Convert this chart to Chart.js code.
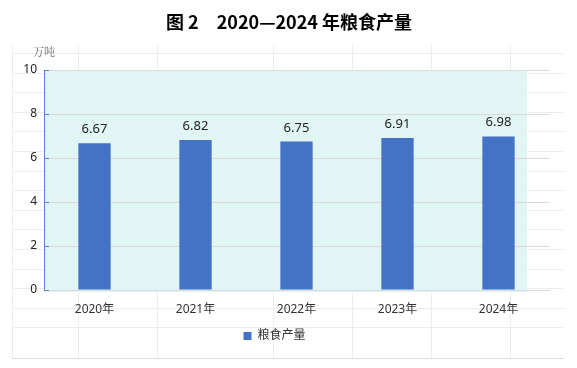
<!DOCTYPE html>
<html>
<head>
<meta charset="utf-8">
<script src="https://cdn.jsdelivr.net/npm/chart.js@4.4.1/dist/chart.umd.min.js"></script>
<style>
  html, body { margin: 0; padding: 0; background: #fff; }
  #wrap { width: 577px; height: 368px; }
</style>
</head>
<body>
<div id="wrap"><canvas id="c" width="577" height="368"></canvas></div>
<script>
const years = ['2020年', '2021年', '2022年', '2023年', '2024年'];
const grain = [6.67, 6.82, 6.75, 6.91, 6.98];
const yTicks = [0, 2, 4, 6, 8, 10];
const seriesName = '粮食产量';
const title = '图 2　2020—2024 年粮食产量';
const unit = '万吨';

const FONT = "'Noto Sans', 'Noto Sans CJK SC', sans-serif";

// faint spreadsheet cells behind the chart, title, labels
const sheet = {
    id: 'sheet',
    beforeDraw(chart) {
        const c = chart.ctx;
        c.save();
        c.strokeStyle = '#ececec';
        c.lineWidth = 1;
        for (let y = 53; y <= 347; y += 19.6) {
            c.beginPath(); c.moveTo(12, Math.round(y) + 0.5); c.lineTo(564, Math.round(y) + 0.5); c.stroke();
        }
        [12, 78, 157, 273, 352, 431, 510].forEach(x => {
            c.beginPath(); c.moveTo(x + 0.5, 45); c.lineTo(x + 0.5, 358); c.stroke();
        });
        c.strokeStyle = '#dcdcdc';
        c.beginPath(); c.moveTo(12, 358.5); c.lineTo(564, 358.5); c.stroke();

        // plot fill
        const a = chart.chartArea;
        c.fillStyle = '#e1f5f4';
        c.fillRect(a.left, a.top, 527 - a.left, a.bottom - a.top + 2);
        c.restore();
    },
    afterDraw(chart) {
        const c = chart.ctx;
        const y = chart.scales.y;
        c.save();
        c.fillStyle = '#000';
        c.font = "bold 18px 'Noto Sans CJK SC', sans-serif";
        c.textAlign = 'center';
        c.textBaseline = 'middle';
        c.fillText(title, 289, 22);

        c.fillStyle = '#666';
        c.font = "11px 'Noto Serif CJK SC', 'Noto Sans CJK SC', serif";
        c.fillText(unit, 44, 52);

        // small inner tick marks on the value axis
        c.strokeStyle = '#5b82d0';
        yTicks.forEach(v => {
            const py = Math.round(y.getPixelForValue(v)) + 0.5;
            c.beginPath(); c.moveTo(y.right, py); c.lineTo(y.right + 5, py); c.stroke();
        });

        // value labels
        const meta = chart.getDatasetMeta(0);
        c.fillStyle = '#222';
        c.font = '13px ' + FONT;
        c.textBaseline = 'alphabetic';
        meta.data.forEach((bar, i) => {
            c.fillText(grain[i].toFixed(2), bar.x, bar.y - 10);
        });
        c.restore();
    }
};

new Chart(document.getElementById('c'), {
    type: 'bar',
    data: {
        labels: years,
        datasets: [{
            label: seriesName,
            data: grain,
            backgroundColor: '#4472c4',
            borderWidth: 0,
            barPercentage: 0.32,
            categoryPercentage: 1
        }]
    },
    options: {
        responsive: false,
        animation: false,
        devicePixelRatio: 1,
        layout: { padding: { top: 70, right: 28, bottom: 16, left: 0 } },
        scales: {
            x: {
                grid: { display: false },
                border: { color: '#d9d9d9' },
                ticks: { color: '#333', font: { family: FONT, size: 12 }, padding: 4 },
                afterFit(s) { s.height = 30; }
            },
            y: {
                min: 0,
                max: 10,
                afterBuildTicks(s) { s.ticks = yTicks.map(v => ({ value: v })); },
                grid: { color: '#d9d9d9', drawTicks: false },
                border: { color: '#5b82d0' },
                ticks: { color: '#222', font: { family: FONT, size: 12 }, padding: 7 },
                afterFit(s) { s.width = 44; }
            }
        },
        plugins: {
            legend: {
                position: 'bottom',
                labels: {
                    boxWidth: 8,
                    boxHeight: 8,
                    padding: 10,
                    color: '#333',
                    font: { family: FONT, size: 12 }
                }
            },
            tooltip: { enabled: false }
        }
    },
    plugins: [sheet]
});
</script>
</body>
</html>
